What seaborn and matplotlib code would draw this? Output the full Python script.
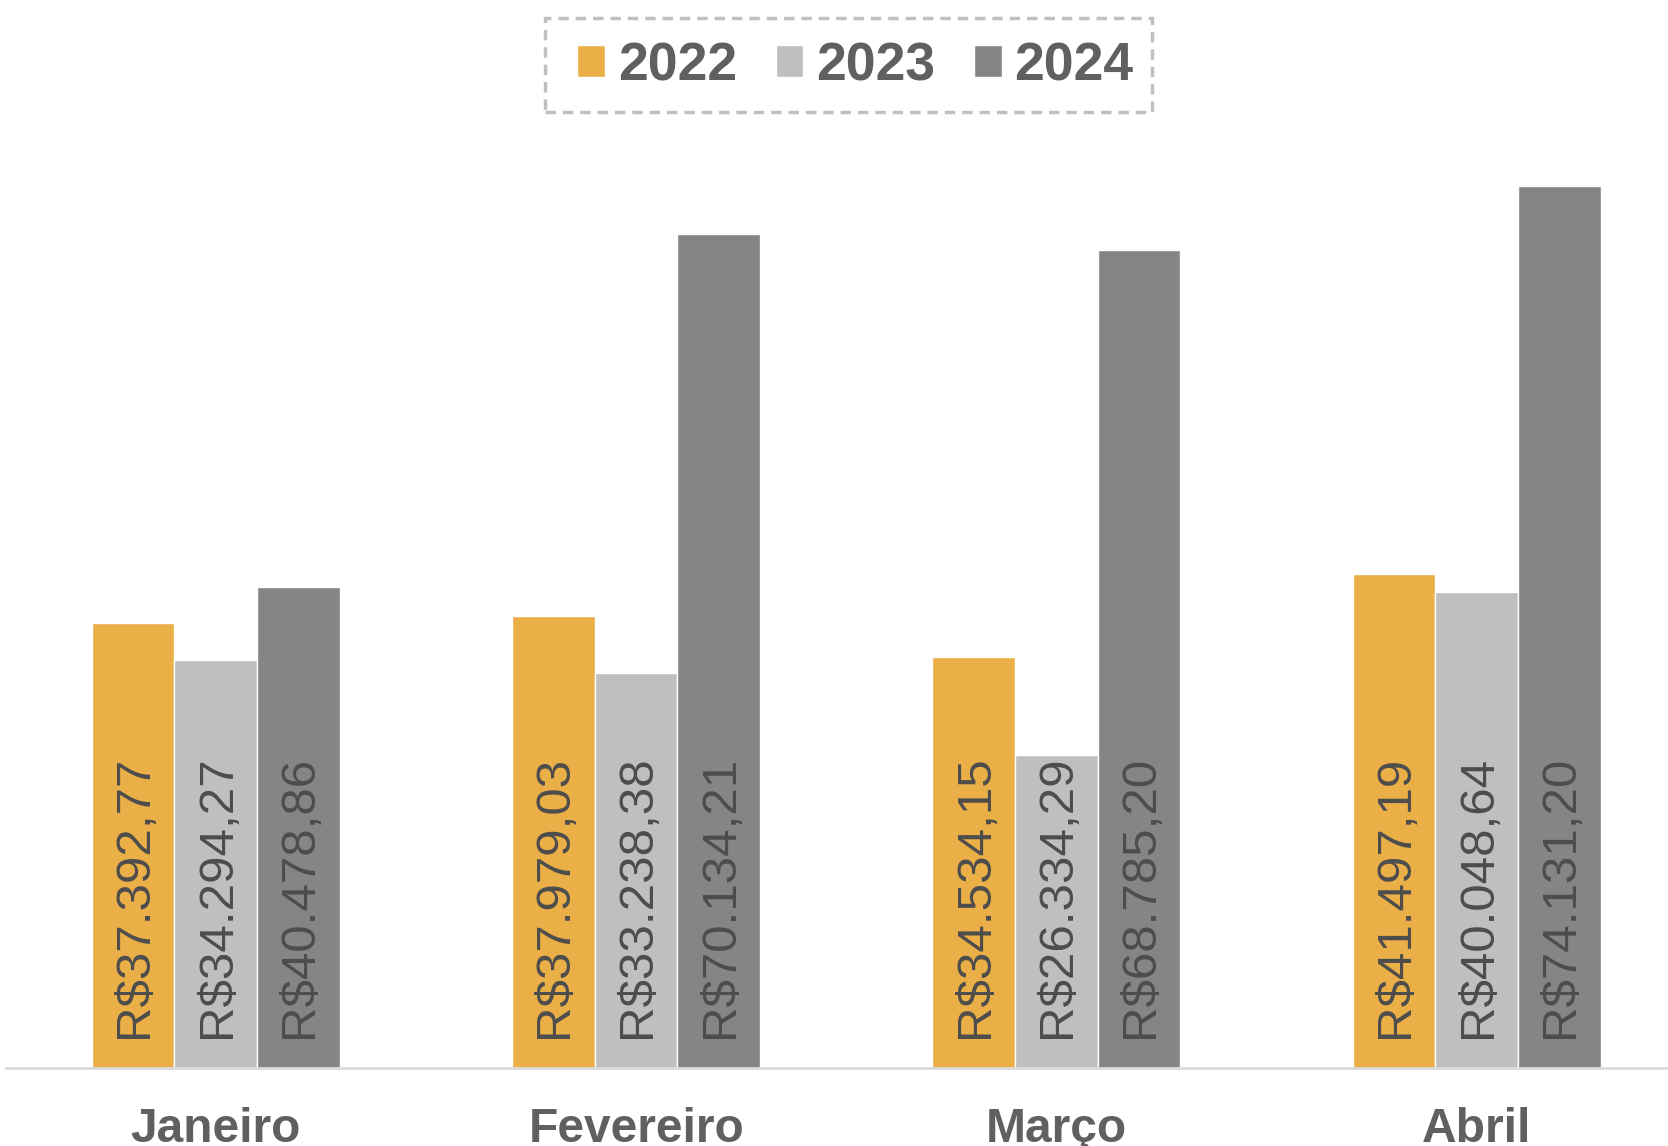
import matplotlib
matplotlib.use("Agg")
import matplotlib.pyplot as plt
from matplotlib.patches import Rectangle
import pandas as pd
import seaborn as sns

# Chart data
months = ["Janeiro", "Fevereiro", "Março", "Abril"]
years = ["2022", "2023", "2024"]
sales_2022 = [37392.77, 37979.03, 34534.15, 41497.19]
sales_2023 = [34294.27, 33238.38, 26334.29, 40048.64]
sales_2024 = [40478.86, 70134.21, 68785.20, 74131.20]

palette = {"2022": "#EAAF47", "2023": "#BFBFBF", "2024": "#858585"}


def fmt_brl(v):
    s = f"{v:,.2f}"
    s = s.replace(",", "X").replace(".", ",").replace("X", ".")
    return "R$" + s


def main():
    df = pd.DataFrame({
        "Mes": months * 3,
        "Ano": [y for y in years for _ in months],
        "Valor": sales_2022 + sales_2023 + sales_2024,
    })

    sns.set_style("white")
    plt.rcParams["font.family"] = ["Liberation Sans", "DejaVu Sans"]

    fig = plt.figure(figsize=(16.68, 11.46), dpi=100)
    ax = fig.add_axes([0.0034, 0.068, 0.9966, 0.82])

    sns.barplot(
        data=df, x="Mes", y="Valor", hue="Ano", order=months, hue_order=years,
        palette=palette, width=0.59, edgecolor="white", linewidth=1,
        saturation=1, ax=ax, errorbar=None,
    )

    # value labels at the base of each bar
    for container in ax.containers:
        for bar, val in zip(container.patches, container.datavalues):
            ax.annotate(
                fmt_brl(val),
                xy=(bar.get_x() + bar.get_width() / 2, 0),
                xytext=(1, 22), textcoords="offset points",
                rotation=90, ha="center", va="bottom",
                fontsize=35.5, color="#4D4D4D",
            )

    ax.set_ylim(0, 79000)
    ax.set_xlim(-0.5, 3.455)
    ax.set_yticks([])
    ax.set_xlabel("")
    ax.set_ylabel("")
    for side in ["top", "right", "left"]:
        ax.spines[side].set_visible(False)
    ax.spines["bottom"].set_color("#D9D9D9")
    ax.spines["bottom"].set_linewidth(2)
    ax.tick_params(axis="x", length=0, pad=28)
    for lbl in ax.get_xticklabels():
        lbl.set_fontsize(34.5)
        lbl.set_fontweight("bold")
        lbl.set_color("#606060")

    handles, labels = ax.get_legend_handles_labels()
    ax.get_legend().remove()
    leg = fig.legend(
        handles, labels, loc="center", bbox_to_anchor=(0.5128, 0.9424),
        ncol=3, frameon=False, handlelength=0.52,
        handleheight=0.52, handletextpad=0.24, columnspacing=0.72,
        borderpad=0.0, prop={"size": 38.5, "weight": "bold"},
    )
    for t in leg.get_texts():
        t.set_color("#606060")

    # dashed box around the legend
    fig.patches.append(Rectangle(
        (0.3265, 0.9025), 0.3642, 0.0817, transform=fig.transFigure,
        fill=False, edgecolor="#C0C0C0", linewidth=2.5,
        linestyle=(0, (3, 2)),
    ))

    fig.savefig("out.png", dpi=100)


if __name__ == "__main__":
    main()
